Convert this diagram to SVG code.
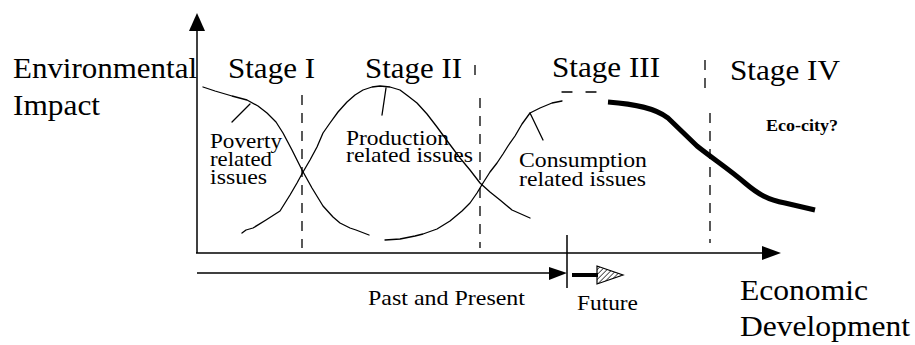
<svg xmlns="http://www.w3.org/2000/svg" width="915" height="345" viewBox="0 0 915 345">
<style>
text{font-family:'Liberation Serif','DejaVu Serif',serif;fill:#000}
.big{font-size:30px}
.mid{font-size:22px}
.bold{font-size:16px;font-weight:bold}
.thin{fill:none;stroke:#000;stroke-width:1.3;stroke-linejoin:round;stroke-linecap:round}
.axis{fill:none;stroke:#000;stroke-width:1.5}
.dash{fill:none;stroke:#000;stroke-width:1.3;stroke-dasharray:10 8}
.thick{fill:none;stroke:#000;stroke-width:5;stroke-linejoin:round}
</style>
<defs>
<pattern id="hatch" patternUnits="userSpaceOnUse" width="3.5" height="3.5" patternTransform="rotate(45)">
<line x1="0" y1="0" x2="0" y2="3.5" stroke="#000" stroke-width="1.3"/>
</pattern>
</defs>
<rect width="915" height="345" fill="#fff"/>

<g id="axes">
<line class="axis" x1="197" y1="30" x2="197" y2="253"/>
<polygon points="197,13 189,31 205,31" fill="#000"/>
<line class="axis" x1="196" y1="253" x2="763" y2="253"/>
<polygon points="781,253 762,246 762,260" fill="#000"/>
</g>

<g id="time-axis">
<line class="axis" x1="197" y1="273" x2="550" y2="273"/>
<polygon points="567,273 549,267 549,280" fill="#000"/>
<line class="axis" x1="567" y1="235" x2="567" y2="288"/>
<line x1="572" y1="275" x2="598" y2="275" stroke="#000" stroke-width="4"/>
<polygon points="597,266 623,275 597,284" fill="url(#hatch)" stroke="#000" stroke-width="1.2"/>
</g>

<g id="stage-dividers">
<line class="dash" x1="302" y1="95" x2="302" y2="248"/>
<line class="dash" x1="475" y1="65" x2="475" y2="75"/>
<line class="dash" x1="480" y1="98" x2="480" y2="248"/>
<line class="dash" x1="705" y1="60" x2="705" y2="92"/>
<line class="dash" x1="710" y1="113" x2="710" y2="243"/>
<line class="thin" x1="562" y1="92" x2="572" y2="92"/>
<line class="thin" x1="586" y1="92" x2="596" y2="92"/>
</g>

<g id="curves">
<polyline class="thin" points="203,87 215,91 232,96 247,100 258,106 267,113 276,122 283,133 292,150 302,170 312,188 323,206 333,217 340,223 350,228 356,230 369,235"/>
<polyline class="thin" points="242,233 246,230 253,228 266,220 280,211 290,195 297,183 303,172 310,160 317,147 323,133 330,123 338,112 347,102 355,95 363,90 372,87 380,86 390,87 400,90 408,96 417,103 427,114 437,127 448,142 460,158 470,170 480,183 490,192 500,200 512,210 530,218"/>
<polyline class="thin" points="385,240 400,239 415,236 423,234 437,229 450,221 462,211 470,203 477,193 483,183 490,172 497,163 503,154 508,146 515,136 522,124 530,113 540,108 552,103 562,101"/>
<path class="thick" d="M608,102 C635,104 655,108 668,118 L697,146 C712,158 730,170 745,183 C758,194 768,200 785,203 L815,210"/>
</g>

<g id="pointers">
<line class="thin" x1="232" y1="122" x2="250" y2="104"/>
<line class="thin" x1="382" y1="115" x2="386" y2="88"/>
<line class="thin" x1="530" y1="113" x2="543" y2="140"/>
</g>

<g id="axis-labels">
<text class="big" x="13" y="78" textLength="184" lengthAdjust="spacingAndGlyphs">Environmental</text>
<text class="big" x="13" y="115" textLength="87" lengthAdjust="spacingAndGlyphs">Impact</text>
<text class="big" x="740" y="300" textLength="128" lengthAdjust="spacingAndGlyphs">Economic</text>
<text class="big" x="740" y="336" textLength="170" lengthAdjust="spacingAndGlyphs">Development</text>
</g>

<g id="stage-labels">
<text class="big" x="228" y="78" textLength="87" lengthAdjust="spacingAndGlyphs">Stage I</text>
<text class="big" x="365" y="78" textLength="97" lengthAdjust="spacingAndGlyphs">Stage II</text>
<text class="big" x="552" y="77" textLength="108" lengthAdjust="spacingAndGlyphs">Stage III</text>
<text class="big" x="730" y="80" textLength="110" lengthAdjust="spacingAndGlyphs">Stage IV</text>
</g>

<g id="issue-labels">
<text class="mid" x="210" y="148" textLength="72" lengthAdjust="spacingAndGlyphs">Poverty</text>
<text class="mid" x="210" y="166" textLength="62" lengthAdjust="spacingAndGlyphs">related</text>
<text class="mid" x="210" y="184" textLength="57" lengthAdjust="spacingAndGlyphs">issues</text>
<text class="mid" x="346" y="145" textLength="103" lengthAdjust="spacingAndGlyphs">Production</text>
<text class="mid" x="346" y="162" textLength="127" lengthAdjust="spacingAndGlyphs">related issues</text>
<text class="mid" x="519" y="167" textLength="128" lengthAdjust="spacingAndGlyphs">Consumption</text>
<text class="mid" x="519" y="186" textLength="127" lengthAdjust="spacingAndGlyphs">related issues</text>
<text class="bold" x="766" y="131" textLength="72" lengthAdjust="spacingAndGlyphs">Eco-city?</text>
</g>

<g id="time-labels">
<text class="mid" x="368" y="305" textLength="157" lengthAdjust="spacingAndGlyphs">Past and Present</text>
<text class="mid" x="577" y="310" textLength="61" lengthAdjust="spacingAndGlyphs">Future</text>
</g>
</svg>
